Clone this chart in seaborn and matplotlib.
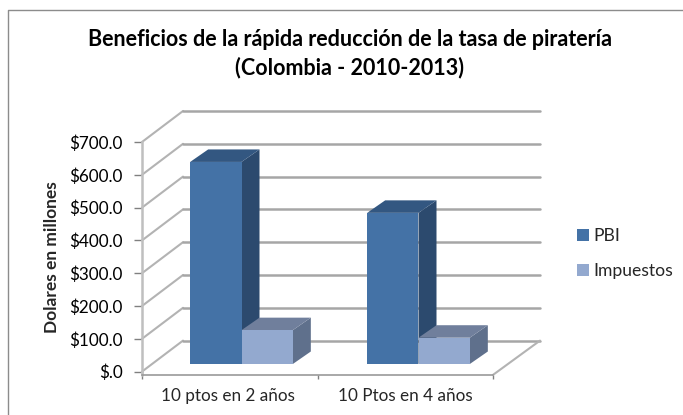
import seaborn as sns
import matplotlib.pyplot as plt
import pandas as pd
from matplotlib.lines import Line2D
from matplotlib.patches import Polygon, Patch

categories = ["10 ptos en 2 años", "10 Ptos en 4 años"]
pbi = [615, 460]
impuestos = [103, 80]
y_ticks = [0, 100, 200, 300, 400, 500, 600, 700]
y_labels = ["$.0", "$100.0", "$200.0", "$300.0", "$400.0", "$500.0", "$600.0", "$700.0"]

W, H = 683, 415
sns.set_style("white")
plt.rcParams["font.family"] = ["Lato", "DejaVu Sans"]

fig = plt.figure(figsize=(W / 100, H / 100), dpi=100)


def px_axes(left, top, right, bottom):
    return fig.add_axes([left / W, 1 - bottom / H, (right - left) / W, (bottom - top) / H])


# chart frame, only its top and left edges are inside the picture
fig.add_artist(Line2D([7.5 / W, 7.5 / W, 1], [0, 1 - 10.5 / H, 1 - 10.5 / H], transform=fig.transFigure,
                      color="#8c8c8c", lw=1))

fig.text(349.5 / W, 1 - 40 / H, "Beneficios de la rápida reducción de la tasa de piratería",
         ha="center", va="center", fontsize=15.5, fontweight="bold", color="black")
fig.text(349.5 / W, 1 - 68 / H, "(Colombia - 2010-2013)",
         ha="center", va="center", fontsize=15.5, fontweight="bold", color="black")

# front plane: value axis and category axis
ax = px_axes(142, 142, 493, 371.6)
ax.set_facecolor("none")
ax.set_ylim(0, 700)
ax.set_xlim(-0.5, 1.5)
ax.set_yticks(y_ticks)
ax.set_yticklabels(y_labels, fontsize=12.3, color="black")
ax.set_xticks([-0.5, 0.5, 1.5])
ax.set_xticklabels([])
ax.set_xticks([-0.009, 1.002], minor=True)
ax.set_xticklabels(categories, minor=True, color="black")
ax.tick_params(axis="x", which="major", length=3, width=1, color="#808080", bottom=True)
ax.tick_params(axis="x", which="minor", length=0, pad=9.5, labelsize=12.3)
ax.tick_params(axis="y", length=6, width=1, color="#808080", left=True, pad=8)
ax.set_ylabel("Dolares en millones", fontsize=12.5, fontweight="bold")
ax.yaxis.set_label_coords(-82 / 351, 0.497)
for side_name in ["top", "right"]:
    ax.spines[side_name].set_visible(False)
ax.spines["left"].set(color="#bfbfbf", lw=1.8)
ax.spines["bottom"].set(color="#999999", lw=1.2)
ax.spines["bottom"].set_position(("outward", 2.5))

# back wall and side wall gridlines
wall_dx = 41 / 351
wall_dy = 31 / 229.6 * 700
grid_color = "#a6a6a6"
tr = ax.get_yaxis_transform()
ax.plot([0, 0], [-10, 0], transform=tr, color="#bfbfbf", lw=1.8, clip_on=False, zorder=1)
for v in y_ticks:
    ax.plot([0, wall_dx], [v, v + wall_dy], transform=tr, color="#b3b3b3", lw=1.5, clip_on=False, zorder=1)
    ax.plot([wall_dx, 398 / 351], [v + wall_dy, v + wall_dy], transform=tr, color=grid_color, lw=1.8,
            clip_on=False, zorder=1)
ax.plot([1, 398 / 351], [-10, wall_dy], transform=tr, color="#b3b3b3", lw=1.5, clip_on=False, zorder=1)

# bars live in their own axes, shifted onto the floor
df = pd.DataFrame({
    "cat": categories * 2,
    "serie": ["PBI"] * 2 + ["Impuestos"] * 2,
    "valor": pbi + impuestos,
})
front = {"PBI": "#4472a6", "Impuestos": "#93a9cf"}
side = {"PBI": "#2c4a6e", "Impuestos": "#5f708c"}
top = {"PBI": "#335781", "Impuestos": "#707f9c"}

bx = px_axes(153, 134, 507, 364)
sns.barplot(data=df, x="cat", y="valor", hue="serie", hue_order=["PBI", "Impuestos"], palette=front,
            width=0.58, gap=0, saturation=1, legend=False, ax=bx, zorder=3)
bx.set_xlim(-0.5, 1.5)
bx.set_ylim(0, 700)
bx.set_axis_off()
bx.patch.set_alpha(0)

dx = 18 / 354 * 2
dy = 12.5 / 230 * 700
for i, bar in enumerate(bx.patches[:4]):
    name = "PBI" if i < 2 else "Impuestos"
    x, w, h = bar.get_x(), bar.get_width(), bar.get_height()
    bar.set_edgecolor("none")
    z = 1 if name == "PBI" else 2
    bx.add_patch(Polygon([(x + w, 0), (x + w + dx, dy), (x + w + dx, h + dy), (x + w, h)],
                         fc=side[name], ec="none", zorder=z, clip_on=False))
    bx.add_patch(Polygon([(x, h), (x + w, h), (x + w + dx, h + dy), (x + dx, h + dy)],
                         fc=top[name], ec="none", zorder=z, clip_on=False))
    bar.set_zorder(3 if name == "PBI" else 2.5)

fig.legend(handles=[Patch(fc=front["PBI"], ec="none", label="PBI"),
                    Patch(fc=front["Impuestos"], ec="none", label="Impuestos")],
           loc="center left", bbox_to_anchor=(577 / W, 1 - 253.5 / H), frameon=False,
           fontsize=12.6, handlelength=0.68, handleheight=0.68, handletextpad=0.25,
           labelspacing=1.1, borderpad=0, borderaxespad=0)

fig.savefig("out.png", dpi=100)
